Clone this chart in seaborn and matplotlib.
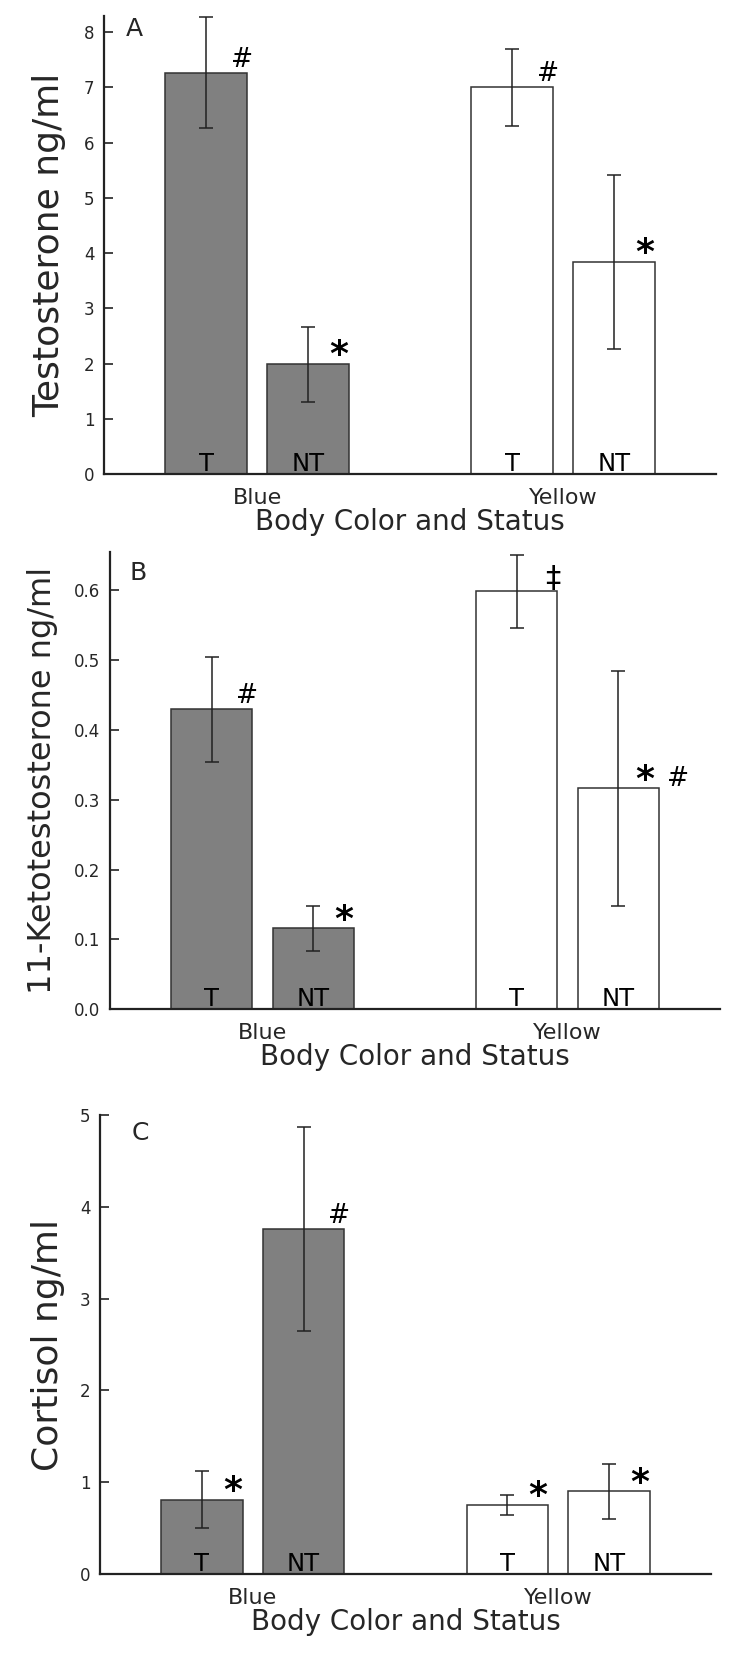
import numpy as np
import pandas as pd
import matplotlib
matplotlib.use('Agg')
import matplotlib.pyplot as plt
import seaborn as sns

# categories
body_colors = ['Blue', 'Yellow']
statuses = ['T', 'NT']

# values, order: Blue T, Blue NT, Yellow T, Yellow NT
testo_mean = [7.27, 1.99, 7.00, 3.84]
testo_err = [1.00, 0.68, 0.70, 1.57]
keto_mean = [0.429, 0.116, 0.598, 0.316]
keto_err = [0.075, 0.032, 0.052, 0.168]
cort_mean = [0.81, 3.76, 0.755, 0.90]
cort_err = [0.31, 1.11, 0.11, 0.30]

# significance marks per bar
testo_marks = ['#', '*', '#', '*']
keto_marks = ['#', '*', '\u2021', '* #']
cort_marks = ['*', '#', '*', '*']

testo_ticks = [0, 1, 2, 3, 4, 5, 6, 7, 8]
keto_ticks = [0.0, 0.1, 0.2, 0.3, 0.4, 0.5, 0.6]
cort_ticks = [0, 1, 2, 3, 4, 5]

sns.set_style('ticks')
plt.rcParams['font.family'] = ['DejaVu Sans']

fill = {'Blue': '#808080', 'Yellow': '#ffffff'}
ink = '#222222'

panels = [
    dict(letter='A', mean=testo_mean, err=testo_err, marks=testo_marks,
         ylabel='Testosterone ng/ml', ylim=(0, 8.30), ticks=testo_ticks, fmt='{:g}',
         rect=[0.1390, 0.7157, 0.8160, 0.2749], label_x=-0.090, ylab_size=26,
         letter_pos=(0.036, 0.997)),
    dict(letter='B', mean=keto_mean, err=keto_err, marks=keto_marks,
         ylabel='11-Ketotestosterone ng/ml', ylim=(0, 0.654), ticks=keto_ticks, fmt='{:.1f}',
         rect=[0.1467, 0.3945, 0.8133, 0.2743], label_x=-0.111, ylab_size=23,
         letter_pos=(0.032, 0.980)),
    dict(letter='C', mean=cort_mean, err=cort_err, marks=cort_marks,
         ylabel='Cortisol ng/ml', ylim=(0, 5), ticks=cort_ticks, fmt='{:g}',
         rect=[0.1333, 0.0558, 0.8147, 0.2753], label_x=-0.085, ylab_size=26,
         letter_pos=(0.051, 0.988)),
]

fig = plt.figure(figsize=(7.5, 16.67), dpi=100)

for p in panels:
    ax = fig.add_axes(p['rect'])
    df = pd.DataFrame({
        'color': np.repeat(body_colors, 2),
        'status': statuses * 2,
        'value': p['mean'],
        'err': p['err'],
        'mark': p['marks'],
    })
    sns.barplot(data=df, x='color', y='value', hue='status',
                order=body_colors, hue_order=statuses,
                width=0.666, gap=0.198, errorbar=None, legend=False,
                edgecolor='#333333', linewidth=1.1, ax=ax)

    for j, st in enumerate(statuses):
        for i, col in enumerate(body_colors):
            bar = ax.containers[j][i]
            bar.set_facecolor(fill[col])
            row = df[(df['color'] == col) & (df['status'] == st)].iloc[0]
            cx = bar.get_x() + bar.get_width() / 2
            right = bar.get_x() + bar.get_width()
            top = bar.get_height()
            ax.errorbar(cx, row['value'], yerr=row['err'], fmt='none',
                        ecolor=ink, elinewidth=1.1, capsize=5, capthick=1.1, zorder=5)
            # status label inside the bar
            ax.annotate(st, (cx, 0), xytext=(0, 2.4), textcoords='offset points',
                        ha='center', va='baseline', fontsize=17.5, color='black')
            # significance marks
            syms = row['mark'].split()
            for n, s in enumerate(syms):
                if s == '*':
                    dx = -7.5 if len(syms) == 1 else -10
                    ax.annotate(s, (right, top), xytext=(dx, -1), textcoords='offset points',
                                ha='center', va='baseline', fontsize=26,
                                fontweight='bold', color='black')
                elif s == '#':
                    dx = -3.6 if n == 0 else 14
                    dy = 4.3 if n == 0 else 1.5
                    ax.annotate(s, (right, top), xytext=(dx, dy), textcoords='offset points',
                                ha='center', va='baseline', fontsize=19, color='black')
                else:
                    ax.annotate(s, (right, top), xytext=(-3.4, 3.4), textcoords='offset points',
                                ha='center', va='baseline', fontsize=22, color='black')

    ax.set_xlim(-0.5, 1.5)
    ax.set_ylim(*p['ylim'])
    ax.set_yticks(p['ticks'])
    ax.set_yticklabels([p['fmt'].format(t) for t in p['ticks']], fontsize=12)
    ax.tick_params(axis='y', direction='in', length=6.5, width=1.2, color=ink, pad=7)
    ax.tick_params(axis='x', length=0, pad=10, labelsize=16)
    ax.set_xlabel('Body Color and Status', fontsize=20, labelpad=0)
    ax.set_ylabel(p['ylabel'], fontsize=p['ylab_size'], va='center')
    ax.yaxis.set_label_coords(p['label_x'], 0.5)
    for side in ['top', 'right']:
        ax.spines[side].set_visible(False)
    for side in ['left', 'bottom']:
        ax.spines[side].set_color(ink)
        ax.spines[side].set_linewidth(1.6)
    ax.text(p['letter_pos'][0], p['letter_pos'][1], p['letter'], transform=ax.transAxes,
            ha='left', va='top', fontsize=18)

fig.savefig('out.png', dpi=100)
